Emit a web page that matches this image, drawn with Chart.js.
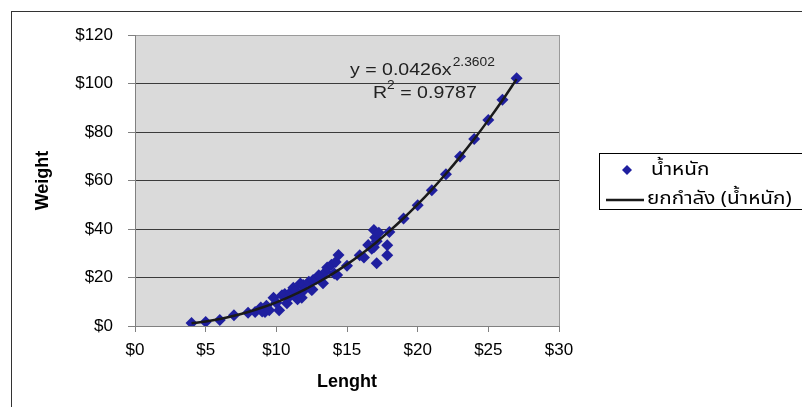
<!DOCTYPE html>
<html>
<head>
<meta charset="utf-8">
<script src="https://cdn.jsdelivr.net/npm/chart.js@4.4.1/dist/chart.umd.min.js"></script>
<style>
  html, body { margin: 0; padding: 0; background: #ffffff; }
  canvas { display: block; }
</style>
</head>
<body>
<canvas id="c" width="802" height="407"></canvas>
<script>
// ---- data ----
const lengths = [4, 5, 6, 7, 8, 8.5, 8.9, 9.0, 9.2, 9.3, 9.5, 9.8, 10, 10.2, 10.4, 10.6, 10.75, 10.9, 11, 11.2, 11.4, 11.5, 11.55, 11.7, 11.8, 11.9, 12, 12.3, 12.5, 12.55, 12.6, 12.85, 13, 13.1, 13.3, 13.5, 13.6, 13.9, 14.1, 14.2, 14.3, 14.4, 15, 15.9, 16.2, 16.5, 16.75, 16.9, 16.9, 17.0, 17.1, 17.1, 17.25, 17.85, 17.85, 18, 19, 20, 21, 22, 23, 24, 25, 26, 27];
const weights = [1.2, 1.7, 2.5, 4.4, 5.5, 5.8, 7.6, 6.0, 5.8, 8.3, 6.5, 11.7, 9.6, 6.5, 12.7, 13.2, 9.4, 12.0, 13.8, 15.8, 14.5, 11.0, 12.8, 17.5, 11.7, 16.9, 15.1, 18.2, 14.8, 15.1, 19.0, 19.5, 20.9, 20.3, 17.6, 22.5, 24.1, 25.3, 21.6, 26.4, 21.0, 29.3, 24.8, 29.2, 28.2, 33.4, 31.9, 39.6, 32.5, 36.5, 35.0, 25.9, 38.5, 33.3, 29.2, 38.8, 44.3, 49.8, 56.0, 62.6, 69.9, 77.1, 84.9, 93.3, 102.2];
// power trendline as drawn in the picture
const trendX = [4, 5, 6, 7, 8, 9, 10, 11, 12, 13, 14, 15, 16, 17, 18, 19, 20, 21, 22, 23, 24, 25, 26, 27];
const trendY = [1.12, 1.90, 2.92, 4.21, 5.77, 7.61, 9.76, 12.23, 15.02, 18.14, 21.61, 25.42, 29.61, 34.16, 39.10, 44.42, 50.14, 56.25, 62.78, 69.73, 77.10, 84.90, 93.10, 101.80];
const xTicks = [0, 5, 10, 15, 20, 25, 30];
const yTicks = [0, 20, 40, 60, 80, 100, 120];
const seriesLabel = 'น้ำหนัก';
const trendLabel = 'ยกกำลัง (น้ำหนัก)';
const eqMain = 'y = 0.0426x';
const eqExp = '2.3602';
const r2Main = 'R';
const r2Exp = '2';
const r2Rest = ' = 0.9787';
const xTitle = 'Lenght';
const yTitle = 'Weight';

const FONT = '"Liberation Sans", Arial, sans-serif';
const THAI = '"Noto Sans Thai", "Loma", "Garuda", "Tlwg Typist", "DejaVu Sans", "Liberation Sans", sans-serif';
const MARK = '#1f1f9f';
const TREND = '#1a1a1a';

const points = lengths.map((x, i) => ({ x: x, y: weights[i] }));
const trend = trendX.map((x, i) => ({ x: x, y: trendY[i] }));

const decor = {
  id: 'decor',
  beforeDraw(chart) {
    const ctx = chart.ctx, a = chart.chartArea;
    ctx.save();
    ctx.fillStyle = '#ffffff';
    ctx.fillRect(0, 0, chart.width, chart.height);
    ctx.strokeStyle = '#333333';
    ctx.lineWidth = 1;
    ctx.strokeRect(11.5, 11.5, 1000, 1000);
    ctx.fillStyle = '#dadada';
    ctx.fillRect(a.left, a.top, a.right - a.left, a.bottom - a.top);
    ctx.restore();
  },
  afterDraw(chart) {
    const ctx = chart.ctx, a = chart.chartArea;
    ctx.save();
    // right border of plot area
    ctx.strokeStyle = '#9a9a9a';
    ctx.lineWidth = 1;
    ctx.beginPath();
    ctx.moveTo(Math.round(a.right) + 0.5, a.top);
    ctx.lineTo(Math.round(a.right) + 0.5, a.bottom);
    ctx.stroke();

    function txt(s, x, y, font, sx) {
      ctx.save();
      ctx.translate(x, y);
      ctx.scale(sx, 1);
      ctx.font = font;
      ctx.fillText(s, 0, 0);
      const w = ctx.measureText(s).width * sx;
      ctx.restore();
      return w;
    }
    // trendline equation
    ctx.fillStyle = '#222222';
    ctx.textBaseline = 'alphabetic';
    const big = '17px ' + FONT, small = '12px ' + FONT;
    let x = 350;
    x += txt(eqMain, x, 75, big, 1.15);
    txt(eqExp, x + 1, 66, small, 1.15);
    x = 373;
    x += txt(r2Main, x, 98, big, 1.15);
    x += txt(r2Exp, x, 89, small, 1.15);
    txt(r2Rest, x, 98, big, 1.15);

    // legend
    const ds = chart.data.datasets;
    ctx.fillStyle = '#ffffff';
    ctx.fillRect(599.5, 153.5, 400, 56);
    ctx.strokeStyle = '#000000';
    ctx.lineWidth = 1;
    ctx.strokeRect(599.5, 153.5, 400, 56);
    // marker entry
    ctx.fillStyle = ds[0].backgroundColor;
    ctx.beginPath();
    ctx.moveTo(627, 165); ctx.lineTo(632, 170); ctx.lineTo(627, 175); ctx.lineTo(622, 170);
    ctx.closePath();
    ctx.fill();
    ctx.fillStyle = '#000000';
    ctx.textBaseline = 'middle';
    const tf = '18px ' + THAI;
    txt(ds[0].label, 651, 171, tf, 1.15);
    // line entry
    ctx.strokeStyle = ds[1].borderColor;
    ctx.lineWidth = 2.5;
    ctx.beginPath();
    ctx.moveTo(606, 200); ctx.lineTo(644, 200);
    ctx.stroke();
    txt(ds[1].label, 647, 200, tf, 1.15);
    ctx.restore();
  }
};

new Chart(document.getElementById('c'), {
  type: 'scatter',
  data: {
    datasets: [
      {
        label: seriesLabel,
        data: points,
        backgroundColor: MARK,
        borderColor: MARK,
        pointStyle: 'rectRot',
        pointRadius: 6,
        pointBorderWidth: 0,
        showLine: false,
        order: 1
      },
      {
        label: trendLabel,
        data: trend,
        borderColor: TREND,
        backgroundColor: TREND,
        borderWidth: 2.5,
        pointRadius: 0,
        showLine: true,
        tension: 0.4,
        cubicInterpolationMode: 'monotone',
        order: 0
      }
    ]
  },
  options: {
    responsive: false,
    animation: false,
    devicePixelRatio: 1,
    layout: { padding: { left: 32, right: 243, top: 35, bottom: 14 } },
    plugins: { legend: { display: false }, tooltip: { enabled: false } },
    scales: {
      x: {
        type: 'linear',
        min: xTicks[0],
        max: xTicks[xTicks.length - 1],
        afterBuildTicks: s => { s.ticks = xTicks.map(v => ({ value: v })); },
        ticks: {
          callback: v => '$' + v,
          font: { family: FONT, size: 17 },
          color: '#000000',
          padding: 8,
          maxRotation: 0,
          autoSkip: false
        },
        grid: { drawOnChartArea: false, tickLength: 6, tickColor: '#808080' },
        border: { color: '#808080' },
        title: {
          display: true, text: xTitle, color: '#000000',
          font: { family: FONT, size: 18, weight: 'bold' },
          padding: { top: 0, bottom: 0 }
        },
        afterFit: s => { s.height = 67; }
      },
      y: {
        type: 'linear',
        min: yTicks[0],
        max: yTicks[yTicks.length - 1],
        afterBuildTicks: s => { s.ticks = yTicks.map(v => ({ value: v })); },
        ticks: {
          callback: v => '$' + v,
          font: { family: FONT, size: 17 },
          color: '#000000',
          padding: 15,
          autoSkip: false
        },
        grid: {
          color: c => (c.tick && (c.tick.value === 0 || c.tick.value === 120)) ? '#9a9a9a' : '#3a3a3a',
          tickColor: '#808080',
          tickLength: 7
        },
        border: { color: '#808080' },
        title: {
          display: true, text: yTitle, color: '#000000',
          font: { family: FONT, size: 18, weight: 'bold' },
          padding: { top: 0, bottom: 0 }
        },
        afterFit: s => { s.width = 103; }
      }
    }
  },
  plugins: [decor]
});
</script>
</body>
</html>
